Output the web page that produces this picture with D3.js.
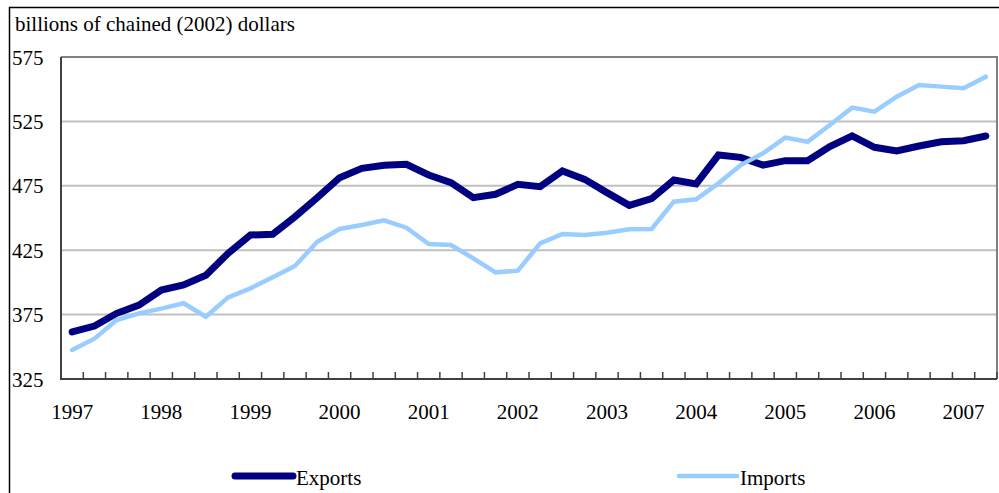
<!DOCTYPE html>
<html>
<head>
<meta charset="utf-8">
<script src="https://cdn.jsdelivr.net/npm/d3@7"></script>
<style>
  body { margin: 0; background: #fff; }
</style>
</head>
<body>
<div id="chart"></div>
<script>
// quarterly, 1997Q1 .. 2007Q2
const years = d3.range(1997, 2008);
const quarters = [];
years.forEach(y => [1, 2, 3, 4].forEach(q => {
  if (y < 2007 || q <= 2) quarters.push(y + 'Q' + q);
}));

const exportsData = [
  361.5, 366.1, 376.0, 382.4, 394.1, 398.0, 405.5, 422.6, 436.8, 437.3,
  451.0, 465.8, 481.3, 488.6, 490.9, 491.7, 483.4, 477.4, 465.8, 468.4,
  476.1, 474.3, 486.5, 480.0, 469.7, 459.8, 465.0, 479.5, 476.4, 498.9,
  497.1, 491.1, 494.5, 494.5, 505.4, 513.7, 504.9, 502.0, 505.9, 509.2,
  510.0, 513.7
];
const importsData = [
  347.5, 356.3, 370.8, 376.0, 379.6, 383.8, 373.4, 388.4, 395.4, 404.0,
  412.7, 431.6, 441.5, 444.6, 448.2, 442.5, 429.8, 429.0, 418.7, 407.8,
  409.1, 430.3, 437.6, 436.8, 438.6, 441.2, 441.5, 462.7, 464.5, 476.9,
  491.1, 500.2, 512.4, 509.2, 522.2, 535.7, 532.6, 544.2, 553.3, 552.0,
  550.7, 559.7
];
const yTicks = [325, 375, 425, 475, 525, 575];

const series = [
  { name: 'Exports', values: exportsData, color: '#000080', width: 7, legendX: 235 },
  { name: 'Imports', values: importsData, color: '#99ccff', width: 4.5, legendX: 679 }
];

const W = 999, H = 493;
const plot = { left: 61, top: 57, right: 997, bottom: 379 };
const fontSize = 21;
const font = 'Liberation Serif';

const svg = d3.select('#chart').append('svg')
  .attr('width', W).attr('height', H)
  .style('display', 'block');

// outer frame (runs off the right and bottom edge)
svg.append('rect')
  .attr('x', 9.5).attr('y', 7.5)
  .attr('width', W + 10).attr('height', H + 10)
  .attr('fill', 'none').attr('stroke', '#000').attr('stroke-width', 1.5);

svg.append('text')
  .attr('x', 15).attr('y', 30.5)
  .attr('font-family', font)
  .attr('font-size', fontSize)
  .text('billions of chained (2002) dollars');

const x = d3.scaleBand().domain(quarters).range([plot.left, plot.right]);
const y = d3.scaleLinear().domain([325, 575]).range([plot.bottom, plot.top]);

// grid lines
svg.append('g')
  .selectAll('line')
  .data(yTicks.filter(v => v > 325 && v < 575))
  .enter().append('line')
  .attr('x1', plot.left).attr('x2', plot.right)
  .attr('y1', d => y(d)).attr('y2', d => y(d))
  .attr('stroke', '#c0c0c0').attr('stroke-width', 2);

// top and right border of plot
svg.append('path')
  .attr('d', `M${plot.left},${y(575)}H${plot.right}V${plot.bottom}`)
  .attr('fill', 'none').attr('stroke', '#808080').attr('stroke-width', 2);

// y labels
svg.append('g')
  .selectAll('text')
  .data(yTicks)
  .enter().append('text')
  .attr('x', 12).attr('y', d => y(d) + 7.5)
  .attr('font-family', font)
  .attr('font-size', fontSize)
  .text(d => d);

// lines
const line = d3.line()
  .x((d, i) => x(quarters[i]) + x.bandwidth() / 2)
  .y(d => y(d));

series.forEach(s => {
  svg.append('path')
    .datum(s.values)
    .attr('d', line)
    .attr('fill', 'none')
    .attr('stroke', s.color)
    .attr('stroke-width', s.width)
    .attr('stroke-linejoin', 'miter')
    .attr('stroke-linecap', 'round');
});

// axes lines
svg.append('path')
  .attr('d', `M${plot.left},${plot.top}V${plot.bottom}H${plot.right}`)
  .attr('fill', 'none').attr('stroke', '#404040').attr('stroke-width', 2);

// quarter tick marks at band edges
const edges = quarters.map(q => x(q)).concat([plot.right]);
svg.append('g')
  .selectAll('line')
  .data(edges)
  .enter().append('line')
  .attr('x1', d => d).attr('x2', d => d)
  .attr('y1', plot.bottom).attr('y2', plot.bottom - 7)
  .attr('stroke', '#404040').attr('stroke-width', 1.5);

// year labels under Q1
svg.append('g')
  .selectAll('text')
  .data(quarters.filter(q => q.endsWith('Q1')))
  .enter().append('text')
  .attr('x', d => x(d) + x.bandwidth() / 2)
  .attr('y', 418.5)
  .attr('text-anchor', 'middle')
  .attr('font-family', font)
  .attr('font-size', fontSize)
  .text(d => d.slice(0, 4));

// legend
series.forEach(s => {
  const g = svg.append('g');
  g.append('line')
    .attr('x1', s.legendX).attr('x2', s.legendX + 58)
    .attr('y1', 476).attr('y2', 476)
    .attr('stroke', s.color).attr('stroke-width', s.width)
    .attr('stroke-linecap', 'round');
  g.append('text')
    .attr('x', s.legendX + 61).attr('y', 484.5)
    .attr('font-family', font)
    .attr('font-size', fontSize)
    .text(s.name);
});
</script>
</body>
</html>
